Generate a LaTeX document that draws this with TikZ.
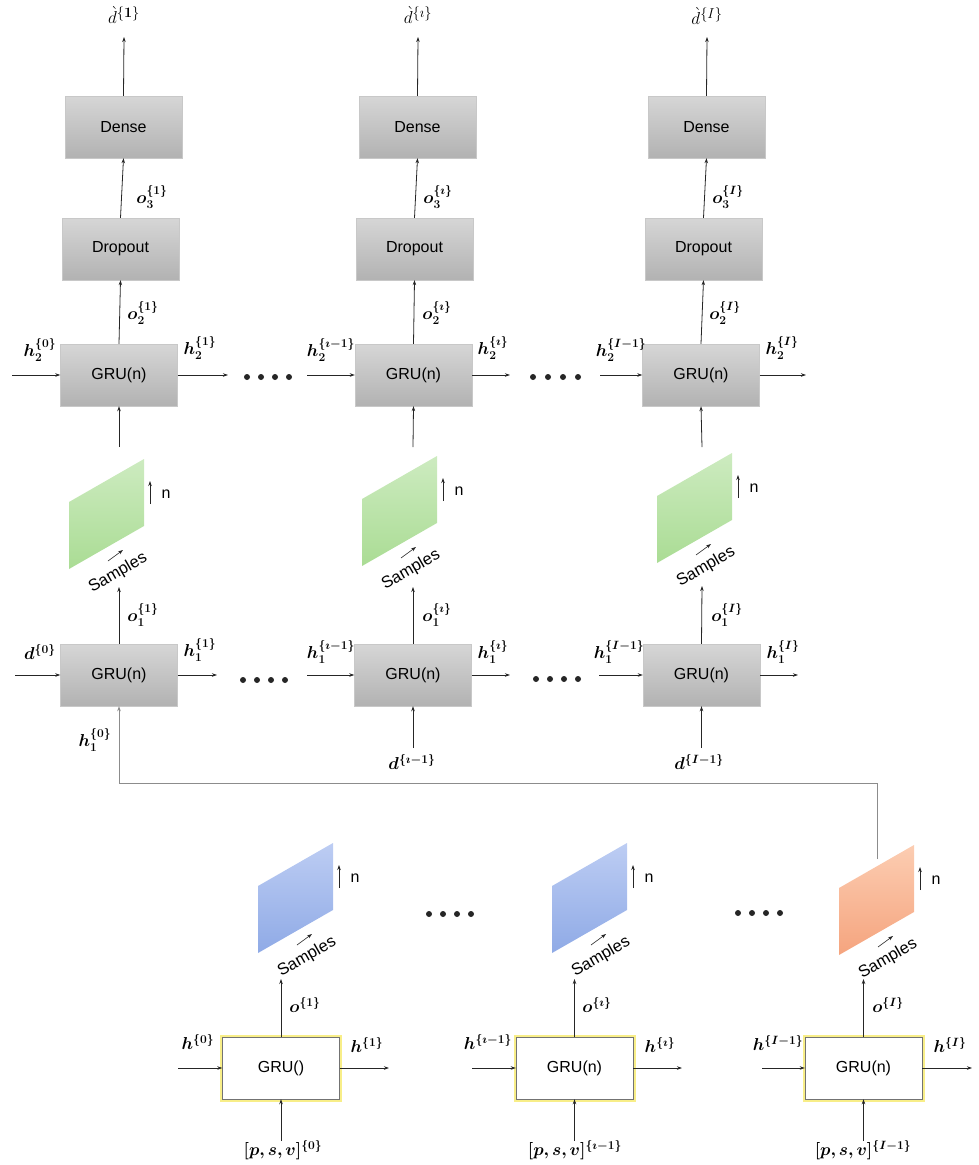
\documentclass[tikz,border=0pt]{standalone}
\usepackage[no-math]{fontspec}
\setmainfont{Liberation Sans}
\usepackage{amsmath,bm}
\usetikzlibrary{arrows.meta}
\definecolor{boxtop}{HTML}{D6D6D6}
\definecolor{boxbot}{HTML}{B2B2B2}
\definecolor{boxline}{HTML}{C8C8C8}
\definecolor{grtop}{HTML}{CDEBC0}
\definecolor{grbot}{HTML}{AADC94}
\definecolor{bltop}{HTML}{BDCDF3}
\definecolor{blbot}{HTML}{8FAAE6}
\definecolor{ortop}{HTML}{FCCDB2}
\definecolor{orbot}{HTML}{F5A47E}
\definecolor{glow}{HTML}{F8EE88}
\newcommand\mypanel[4]{%
\begin{scope}[shift={(#1,#2)}]
\shade[top color=#3,bottom color=#4] (0,0) -- (0,-67) -- (75,-110) -- (75,-43) -- cycle;
\draw[conn] (81,-65) -- (81,-88);
\node[txt] at (97,-75) {n};
\draw[conn, line width=0.6pt] (39,-8) -- (54,-19);
\node[txt, rotate=30, font=\fontsize{16.5}{19}\selectfont] at (49,4) {Samples};
\end{scope}}
\begin{document}
\begin{tikzpicture}[x=1pt,y=-1pt,
  >={Stealth[length=5pt,width=3.5pt]},
  gbox/.style={draw=boxline, top color=boxtop, bottom color=boxbot, minimum width=117pt, minimum height=62pt, inner sep=0pt, font=\fontsize{16}{19}\selectfont},
  wbox/.style={draw=black!55, fill=white, preaction={draw=glow, line width=5pt}, minimum width=117pt, minimum height=62pt, inner sep=0pt, font=\fontsize{16}{19}\selectfont},
  lab/.style={inner sep=0pt, font=\fontsize{17.5}{20}\selectfont},
  big/.style={inner sep=0pt, font=\fontsize{19}{22}\selectfont},
  txt/.style={inner sep=0pt, font=\fontsize{16}{19}\selectfont},
  conn/.style={->, draw=black!85, line width=0.8pt},
  dot/.style={circle, fill=black!85, minimum size=6pt, inner sep=0pt}]
\useasboundingbox (0,0) rectangle (979,1165);

% ---------- panels ----------
\mypanel{69}{569}{grtop}{grbot}
\mypanel{362}{566}{grtop}{grbot}
\mypanel{657}{563}{grtop}{grbot}
\mypanel{258}{953}{bltop}{blbot}
\mypanel{552}{953}{bltop}{blbot}
\mypanel{839}{955}{ortop}{orbot}

% ---------- boxes ----------
\node[gbox] (dense1) at (123.5,127) {Dense};
\node[gbox] (dense2) at (417.5,127) {Dense};
\node[gbox] (dense3) at (706.5,127) {Dense};
\node[gbox] (drop1) at (120.5,249) {Dropout};
\node[gbox] (drop2) at (414.5,249) {Dropout};
\node[gbox] (drop3) at (703.5,249) {Dropout};
\node[gbox] (gA1) at (119,375) {GRU(n)};
\node[gbox] (gA2) at (413.5,375) {GRU(n)};
\node[gbox] (gA3) at (701,375) {GRU(n)};
\node[gbox] (gB1) at (119,675) {GRU(n)};
\node[gbox] (gB2) at (413,675) {GRU(n)};
\node[gbox] (gB3) at (701.5,675) {GRU(n)};
\node[wbox] (gC1) at (281,1068) {GRU()};
\node[wbox] (gC2) at (574.5,1068) {GRU(n)};
\node[wbox] (gC3) at (863.5,1068) {GRU(n)};

% ---------- free ends ----------
\coordinate (out1) at (124,37);
\coordinate (out2) at (418,37);
\coordinate (out3) at (707,37);
\coordinate (p1) at (119,447);
\coordinate (p2) at (413,447);
\coordinate (p3) at (702,447);
\coordinate (s1) at (119,587);
\coordinate (s2) at (413,587);
\coordinate (s3) at (702,586);
\coordinate (sb1) at (281,979);
\coordinate (sb2) at (574.5,979);
\coordinate (sb3) at (863.5,979);
\coordinate (otop) at (877,859);
\coordinate (fb) at (877,783);

% ---------- vertical connectors ----------
\draw[conn] (dense1.north) -- (out1);
\draw[conn] (dense2.north) -- (out2);
\draw[conn] (dense3.north) -- (out3);
\draw[conn] (drop1.north) -- (dense1.south);
\draw[conn] (drop2.north) -- (dense2.south);
\draw[conn] (drop3.north) -- (dense3.south);
\draw[conn] (gA1.north) -- (drop1.south);
\draw[conn] (gA2.north) -- (drop2.south);
\draw[conn] (gA3.north) -- (drop3.south);
\draw[conn] (p1) -- (gA1.south);
\draw[conn] (p2) -- (gA2.south);
\draw[conn] (p3) -- (gA3.south);
\draw[conn] (gB1.north) -- (s1);
\draw[conn] (gB2.north) -- (s2);
\draw[conn] (gB3.north) -- (s3);
\draw[conn] (gC1.north) -- (sb1);
\draw[conn] (gC2.north) -- (sb2);
\draw[conn] (gC3.north) -- (sb3);
\draw[conn, draw=black!45] (otop) -- (fb) -| (gB1.south);

% ---------- horizontal connectors ----------
\coordinate (iA1) at (12,375);  \draw[conn] (iA1) -- (gA1.west);
\coordinate (oA1) at (228,375); \draw[conn] (gA1.east) -- (oA1);
\coordinate (iA2) at (307,375); \draw[conn] (iA2) -- (gA2.west);
\coordinate (oA2) at (510,375); \draw[conn] (gA2.east) -- (oA2);
\coordinate (iA3) at (600,375); \draw[conn] (iA3) -- (gA3.west);
\coordinate (oA3) at (806,375); \draw[conn] (gA3.east) -- (oA3);

\coordinate (iB1) at (15,675);  \draw[conn] (iB1) -- (gB1.west);
\coordinate (oB1) at (217,675); \draw[conn] (gB1.east) -- (oB1);
\coordinate (iB2) at (307,675); \draw[conn] (iB2) -- (gB2.west);
\coordinate (oB2) at (510,675); \draw[conn] (gB2.east) -- (oB2);
\coordinate (iB3) at (599,675); \draw[conn] (iB3) -- (gB3.west);
\coordinate (oB3) at (798,675); \draw[conn] (gB3.east) -- (oB3);
\coordinate (dB2) at (413,748); \draw[conn] (dB2) -- (gB2.south);
\coordinate (dB3) at (701.5,748); \draw[conn] (dB3) -- (gB3.south);

\coordinate (iC1) at (178,1068); \draw[conn] (iC1) -- (gC1.west);
\coordinate (oC1) at (389,1068); \draw[conn] (gC1.east) -- (oC1);
\coordinate (iC2) at (472,1068); \draw[conn] (iC2) -- (gC2.west);
\coordinate (oC2) at (682,1068); \draw[conn] (gC2.east) -- (oC2);
\coordinate (iC3) at (762,1068); \draw[conn] (iC3) -- (gC3.west);
\coordinate (oC3) at (972,1068); \draw[conn] (gC3.east) -- (oC3);
\coordinate (dC1) at (281,1141); \draw[conn] (dC1) -- (gC1.south);
\coordinate (dC2) at (574.5,1141); \draw[conn] (dC2) -- (gC2.south);
\coordinate (dC3) at (863.5,1141); \draw[conn] (dC3) -- (gC3.south);

% ---------- dots ----------
\foreach \x [count=\k] in {247,261,275,289} \node[dot] (da\k) at (\x,377) {};
\foreach \x [count=\k] in {533,548,563,578} \node[dot] (db\k) at (\x,377) {};
\foreach \x [count=\k] in {243,257,271,285} \node[dot] (dc\k) at (\x,680) {};
\foreach \x [count=\k] in {536,550,564,578} \node[dot] (dd\k) at (\x,679) {};
\foreach \x [count=\k] in {429,443,457,471} \node[dot] (de\k) at (\x,914) {};
\foreach \x [count=\k] in {738,752,766,780} \node[dot] (df\k) at (\x,913) {};

% ---------- labels ----------
\node[big] (l1) at (124,15) {$\grave{d}^{\{\mathbf{1}\}}$};
\node[big] (l2) at (418,15) {$\grave{d}^{\{\imath\}}$};
\node[big] (l3) at (707,16) {$\grave{d}^{\{I\}}$};
\node[lab] (l4) at (152,197) {$\bm{o_3^{\{1\}}}$};
\node[lab] (l5) at (438,197) {$\bm{o_3^{\{\imath\}}}$};
\node[lab] (l6) at (728,197) {$\bm{o_3^{\{I\}}}$};
\node[lab] (l7) at (143,313) {$\bm{o_2^{\{1\}}}$};
\node[lab] (l8) at (437,313) {$\bm{o_2^{\{\imath\}}}$};
\node[lab] (l9) at (725,313) {$\bm{o_2^{\{I\}}}$};
\node[lab] (l10) at (40,350) {$\bm{h_2^{\{0\}}}$};
\node[lab] (l11) at (200,348) {$\bm{h_2^{\{1\}}}$};
\node[lab] (l12) at (331,350) {$\bm{h_2^{\{\imath-1\}}}$};
\node[lab] (l13) at (493,348) {$\bm{h_2^{\{\imath\}}}$};
\node[lab] (l14) at (621,350) {$\bm{h_2^{\{I-1\}}}$};
\node[lab] (l15) at (782,348) {$\bm{h_2^{\{I\}}}$};
\node[lab] (l16) at (143,615) {$\bm{o_1^{\{1\}}}$};
\node[lab] (l17) at (437,615) {$\bm{o_1^{\{\imath\}}}$};
\node[lab] (l18) at (727,615) {$\bm{o_1^{\{I\}}}$};
\node[lab] (l19) at (40,652) {$\bm{d^{\{0\}}}$};
\node[lab] (l20) at (200,650) {$\bm{h_1^{\{1\}}}$};
\node[lab] (l21) at (331,652) {$\bm{h_1^{\{\imath-1\}}}$};
\node[lab] (l22) at (493,652) {$\bm{h_1^{\{\imath\}}}$};
\node[lab] (l23) at (619,652) {$\bm{h_1^{\{I-1\}}}$};
\node[lab] (l24) at (783,652) {$\bm{h_1^{\{I\}}}$};
\node[lab] (l25) at (95,740) {$\bm{h_1^{\{0\}}}$};
\node[lab] (l26) at (412,762) {$\bm{d^{\{\imath-1\}}}$};
\node[lab] (l27) at (699,762) {$\bm{d^{\{I-1\}}}$};
\node[lab] (l28) at (305,1005) {$\bm{o^{\{1\}}}$};
\node[lab] (l29) at (597,1005) {$\bm{o^{\{\imath\}}}$};
\node[lab] (l30) at (888,1005) {$\bm{o^{\{I\}}}$};
\node[lab] (l31) at (198,1042) {$\bm{h^{\{0\}}}$};
\node[lab] (l32) at (367,1045) {$\bm{h^{\{1\}}}$};
\node[lab] (l33) at (488,1042) {$\bm{h^{\{\imath-1\}}}$};
\node[lab] (l34) at (660,1045) {$\bm{h^{\{\imath\}}}$};
\node[lab] (l35) at (778,1043) {$\bm{h^{\{I-1\}}}$};
\node[lab] (l36) at (950,1045) {$\bm{h^{\{I\}}}$};
\node[lab] (l37) at (283,1150) {$\bm{[p,s,v]^{\{0\}}}$};
\node[lab] (l38) at (575,1150) {$\bm{[p,s,v]^{\{\imath-1\}}}$};
\node[lab] (l39) at (863,1150) {$\bm{[p,s,v]^{\{I-1\}}}$};
\end{tikzpicture}
\end{document}
